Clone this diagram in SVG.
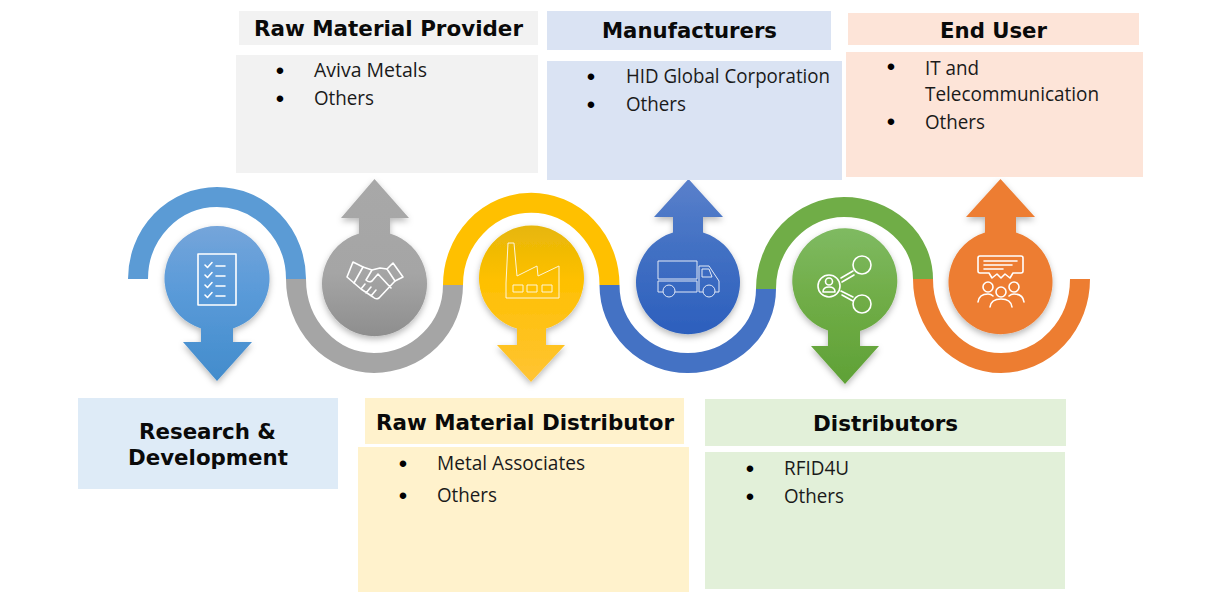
<svg xmlns="http://www.w3.org/2000/svg" width="1210" height="600" viewBox="0 0 1210 600">
<style>
.h{font-family:"DejaVu Sans","Liberation Sans",sans-serif;font-weight:700;font-size:21px;fill:#0a0a0a}
.b{font-family:"Open Sans","Liberation Sans",sans-serif;font-size:19.500px;fill:#1a1a1a}
.d{font-family:"Liberation Sans",sans-serif;font-size:24px;fill:#000;text-anchor:middle}
.c{fill:none;stroke-width:20}
.i{fill:none;stroke:#fff;stroke-width:1.6;stroke-linejoin:round;stroke-linecap:round}
.i2{fill:none;stroke:#fff;stroke-width:1;opacity:.85;stroke-linejoin:round}
.p{filter:url(#s)}
</style>
<defs>
<filter id="s" x="-20%" y="-20%" width="140%" height="140%"><feDropShadow dx="0" dy="3" stdDeviation="3" flood-color="#000" flood-opacity=".28"/></filter>
<linearGradient id="g1" x1="0" y1="0" x2="0" y2="1"><stop offset="0" stop-color="#75a5da"/><stop offset=".4" stop-color="#5b9bd9"/><stop offset="1" stop-color="#428ccc"/></linearGradient>
<linearGradient id="g2" x1="0" y1="0" x2="0" y2="1"><stop offset="0" stop-color="#a8a8a8"/><stop offset=".6" stop-color="#a5a5a5"/><stop offset="1" stop-color="#8e8e8e"/></linearGradient>
<linearGradient id="g3" x1="0" y1="0" x2="0" y2="1"><stop offset="0" stop-color="#e6b60a"/><stop offset=".35" stop-color="#fec000"/><stop offset="1" stop-color="#ffc435"/></linearGradient>
<linearGradient id="g4" x1="0" y1="0" x2="0" y2="1"><stop offset="0" stop-color="#5a80cb"/><stop offset=".4" stop-color="#4472c4"/><stop offset="1" stop-color="#2c5fbd"/></linearGradient>
<linearGradient id="g5" x1="0" y1="0" x2="0" y2="1"><stop offset="0" stop-color="#7fba62"/><stop offset=".45" stop-color="#70ad47"/><stop offset="1" stop-color="#5fa136"/></linearGradient>
</defs>
<rect width="1210" height="600" fill="#fff"/>
<g id="connectors">
<path class="c" stroke="#5b9bd5" d="M138,279A79,82 0 0 1 296,279"/>
<path class="c" stroke="#a5a5a5" d="M296,279A78,84 0 0 0 374,363A79,78 0 0 0 453,285"/>
<path class="c" stroke="#ffc000" d="M453,285A78,82 0 0 1 609.500,285"/>
<path class="c" stroke="#4472c4" d="M609.500,285A78,78 0 0 0 688,363A78,74 0 0 0 766,289"/>
<path class="c" stroke="#70ad47" d="M766,289A78.500,82 0 0 1 844,207A79,72 0 0 1 923,279"/>
<path class="c" stroke="#ed7d31" d="M923,279A78.500,84 0 0 0 1001,363A79,84 0 0 0 1080,279"/>
</g>
<g id="node-research">
<path class="p" fill="url(#g1)" d="M201,328.500A52.500,52.500 0 1 1 233,328.500V342H252L217,381L183,342H201Z"/>
<g class="i"><rect x="198" y="254" width="38" height="51"/><path d="M205,265l2.500,2.500l4.500,-5M216,266h9M205,275l2.500,2.500l4.500,-5M216,276h9M205,285l2.500,2.500l4.500,-5M216,286h9M205,295l2.500,2.500l4.500,-5M216,296h9"/></g>
<rect x="78" y="398" width="260" height="91" fill="#deebf7"/>
<text class="h" x="139" y="439" textLength="137" lengthAdjust="spacingAndGlyphs">Research &amp;</text>
<text class="h" x="128" y="465" textLength="160" lengthAdjust="spacingAndGlyphs">Development</text>
</g>
<g id="node-provider">
<path class="p" fill="url(#g2)" d="M359,233.500V218H341L374.500,179L409,218H390V233.500A52.500,52.500 0 1 1 359,233.500Z"/>
<g class="i"><path d="M353,262L363,267L354,283L347,277ZM393,263L403,277L395,281L387,269Z"/><path d="M363,267L372,270L380,268L387,269M395,281L379,298Q376,300 373,297L361,289L354,283M372,270L366,280Q369,283 372,281L378,274L391,288M361,289L365,284M366,293L371,287M371,296L376,290"/></g>
<rect x="239" y="11" width="299" height="34" fill="#f2f2f2"/>
<text class="h" x="254" y="36" textLength="269" lengthAdjust="spacingAndGlyphs">Raw Material Provider</text>
<rect x="236" y="55" width="302" height="118" fill="#f2f2f2"/>
<text class="d" x="280" y="79">•</text><text class="b" x="314" y="77" textLength="113" lengthAdjust="spacingAndGlyphs">Aviva Metals</text>
<text class="d" x="280" y="107">•</text><text class="b" x="314" y="105" textLength="60" lengthAdjust="spacingAndGlyphs">Others</text>
</g>
<g id="node-distributor">
<path class="p" fill="url(#g3)" d="M517,328.500A52.500,52.500 0 1 1 546,328.500V345H565L531,382L497,345H517Z"/>
<g class="i2"><path d="M506,298V283L508,243H514L517,276L537,266L538,276L559,266V298Z"/><rect x="513" y="285" width="10" height="7"/><rect x="527" y="285" width="10" height="7"/><rect x="542" y="285" width="10" height="7"/></g>
<rect x="365" y="398" width="319" height="46" fill="#fff2cc"/>
<text class="h" x="376" y="430" textLength="298" lengthAdjust="spacingAndGlyphs">Raw Material Distributor</text>
<rect x="358" y="447" width="331" height="145" fill="#fff2cc"/>
<text class="d" x="403" y="472">•</text><text class="b" x="437" y="470" textLength="148" lengthAdjust="spacingAndGlyphs">Metal Associates</text>
<text class="d" x="403" y="504">•</text><text class="b" x="437" y="502" textLength="60" lengthAdjust="spacingAndGlyphs">Others</text>
</g>
<g id="node-manufacturers">
<path class="p" fill="url(#g4)" d="M673,232.500V217H654L688.500,179L723,217H703V232.500A52,52 0 1 1 673,232.500Z"/>
<g class="i2"><rect x="658" y="261" width="39" height="18"/><path d="M658,281V292H663M675,292H697V281H658M699,292V266H709L719,281V292H715M703,292H699"/><path d="M702,269H709L712,277H702Z"/><circle cx="669" cy="291" r="6"/><circle cx="709" cy="291" r="6"/></g>
<rect x="547" y="11" width="284" height="39" fill="#dae3f3"/>
<text class="h" x="602" y="38" textLength="175" lengthAdjust="spacingAndGlyphs">Manufacturers</text>
<rect x="547" y="61" width="295" height="119" fill="#dae3f3"/>
<text class="d" x="591" y="85">•</text><text class="b" x="626" y="83" textLength="204" lengthAdjust="spacingAndGlyphs">HID Global Corporation</text>
<text class="d" x="591" y="113">•</text><text class="b" x="626" y="111" textLength="60" lengthAdjust="spacingAndGlyphs">Others</text>
</g>
<g id="node-distributors">
<path class="p" fill="url(#g5)" d="M828,330.500A52.500,52.500 0 1 1 860,331V346H879L845,384L811,346H828Z"/>
<g class="i"><circle cx="829" cy="286" r="11"/><circle cx="829" cy="281.500" r="3.500"/><path d="M823,292Q823,287 829,287Q835,287 835,292Z"/><circle cx="862" cy="265" r="9"/><circle cx="862" cy="304" r="9"/><path d="M841,278L853,271M842,282L854,275M841,291L853,297M842,295L853,301"/></g>
<rect x="705" y="399" width="361" height="47" fill="#e2f0d9"/>
<text class="h" x="813" y="431" textLength="145" lengthAdjust="spacingAndGlyphs">Distributors</text>
<rect x="705" y="452" width="360" height="137" fill="#e2f0d9"/>
<text class="d" x="750" y="477">•</text><text class="b" x="784" y="475" textLength="65" lengthAdjust="spacingAndGlyphs">RFID4U</text>
<text class="d" x="750" y="505">•</text><text class="b" x="784" y="503" textLength="60" lengthAdjust="spacingAndGlyphs">Others</text>
</g>
<g id="node-end-user">
<path class="p" fill="#ed7d31" d="M985,232.500V217H966L1000.500,179L1035,217H1016V232.500A52,52 0 1 1 985,232.500Z"/>
<g class="i"><path d="M980,256H1021Q1023,256 1023,258V271Q1023,273 1021,273H1013L1010,278L1005,274L1001,278L997,274L992,278L989,273H980Q978,273 978,271V258Q978,256 980,256Z"/><path d="M984,261H1017M984,265H1012M984,269H1003"/><circle cx="988" cy="287" r="5"/><circle cx="1001" cy="292" r="5"/><circle cx="1014" cy="287" r="5"/><path d="M978,302Q979,294 988,294Q991,294 993,296M1009,296Q1011,294 1014,294Q1023,294 1024,302M990,307Q991,299 1001,299Q1011,299 1012,307"/></g>
<rect x="848" y="13" width="291" height="32" fill="#fde4d8"/>
<text class="h" x="940" y="38" textLength="107" lengthAdjust="spacingAndGlyphs">End User</text>
<rect x="846" y="52" width="297" height="125" fill="#fde4d8"/>
<text class="d" x="891" y="75">•</text><text class="b" x="925" y="75" textLength="54" lengthAdjust="spacingAndGlyphs">IT and</text>
<text class="b" x="925" y="101" textLength="174" lengthAdjust="spacingAndGlyphs">Telecommunication</text>
<text class="d" x="891" y="130">•</text><text class="b" x="925" y="129" textLength="60" lengthAdjust="spacingAndGlyphs">Others</text>
</g>
</svg>
